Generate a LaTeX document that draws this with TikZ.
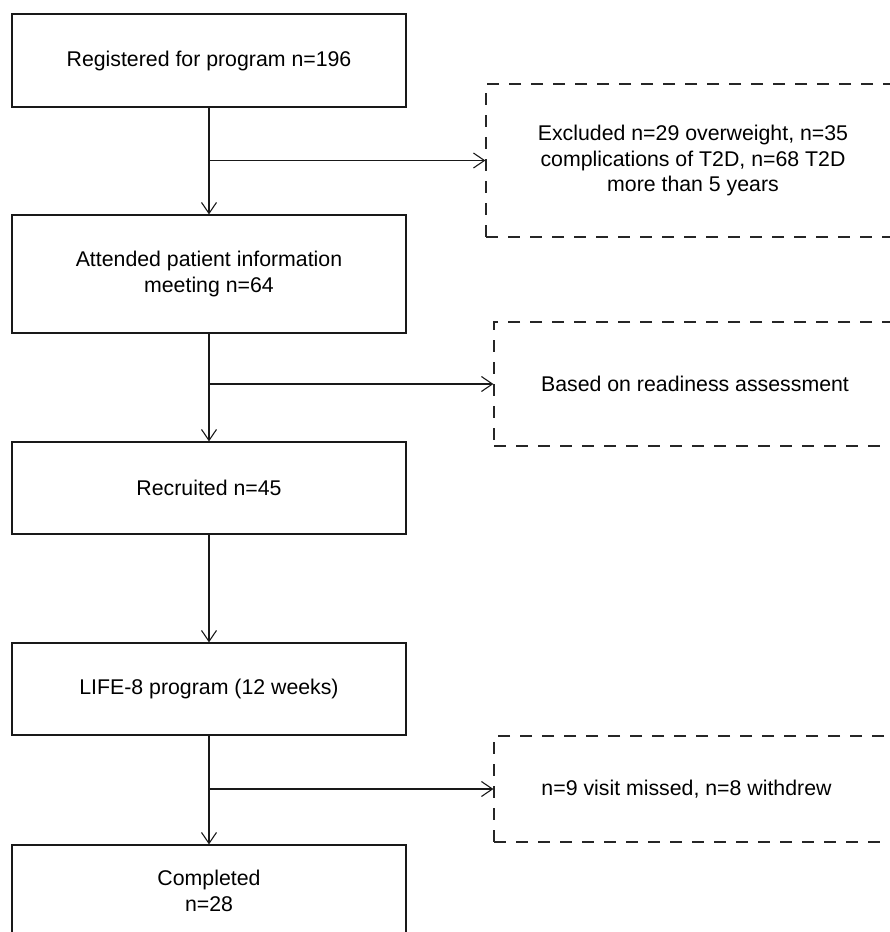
\documentclass[tikz,border=0pt]{standalone}
\usepackage{fontspec}
\setmainfont{Liberation Sans}
\usetikzlibrary{arrows.meta}
\begin{document}
\begin{tikzpicture}[x=1pt,y=-1pt,
  txt/.style={font=\fontsize{21.3}{25.3}\selectfont},
  box/.style={txt, draw=black!90, line width=1.2pt, minimum width=394pt, align=center, inner sep=0pt},
  dbox/.style={txt, draw=black!85, line width=1.2pt, dash pattern=on 12pt off 10pt, align=center, inner sep=0pt},
  conn/.style={draw=black!90, line width=1.1pt, -{Straight Barb[length=11pt,width=15pt,line width=1.1pt]}},
]
\useasboundingbox (0,0) rectangle (890,932);
\clip (0,0) rectangle (890,932);
% main boxes
\node[box, minimum height=93pt] (b1) at (209,60.5) {Registered for program n=196};
\node[box, minimum height=118pt] (b2) at (209,274) {Attended patient information\\meeting n=64};
\node[box, minimum height=92pt] (b3) at (209,488) {Recruited n=45};
\node[box, minimum height=92pt] (b4) at (209,689) {LIFE-8 program (12 weeks)};
\node[box, minimum height=92pt] (b5) at (209,891) {Completed\\n=28};
% dashed side boxes
\node[dbox, minimum width=414pt, minimum height=153pt] (e1) at (693,160.5) {Excluded n=29 overweight, n=35\\complications of T2D, n=68 T2D\\more than 5 years};
\node[dbox, minimum width=402pt, minimum height=124pt] (e2) at (695,384) {Based on readiness assessment};
\node[dbox, minimum width=406pt, minimum height=106pt] (e3) at (697,789) {\hspace*{-21pt}n=9 visit missed, n=8 withdrew};
% connectors
\draw[conn] (b1) -- (b2);
\draw[conn] (b2) -- (b3);
\draw[conn] (b3) -- (b4);
\draw[conn] (b4) -- (b5);
\draw[conn] (b1.south |- e1.west) -- (e1.west);
\draw[conn] (b2.south |- e2.west) -- (e2.west);
\draw[conn] (b4.south |- e3.west) -- (e3.west);
\end{tikzpicture}
\end{document}
